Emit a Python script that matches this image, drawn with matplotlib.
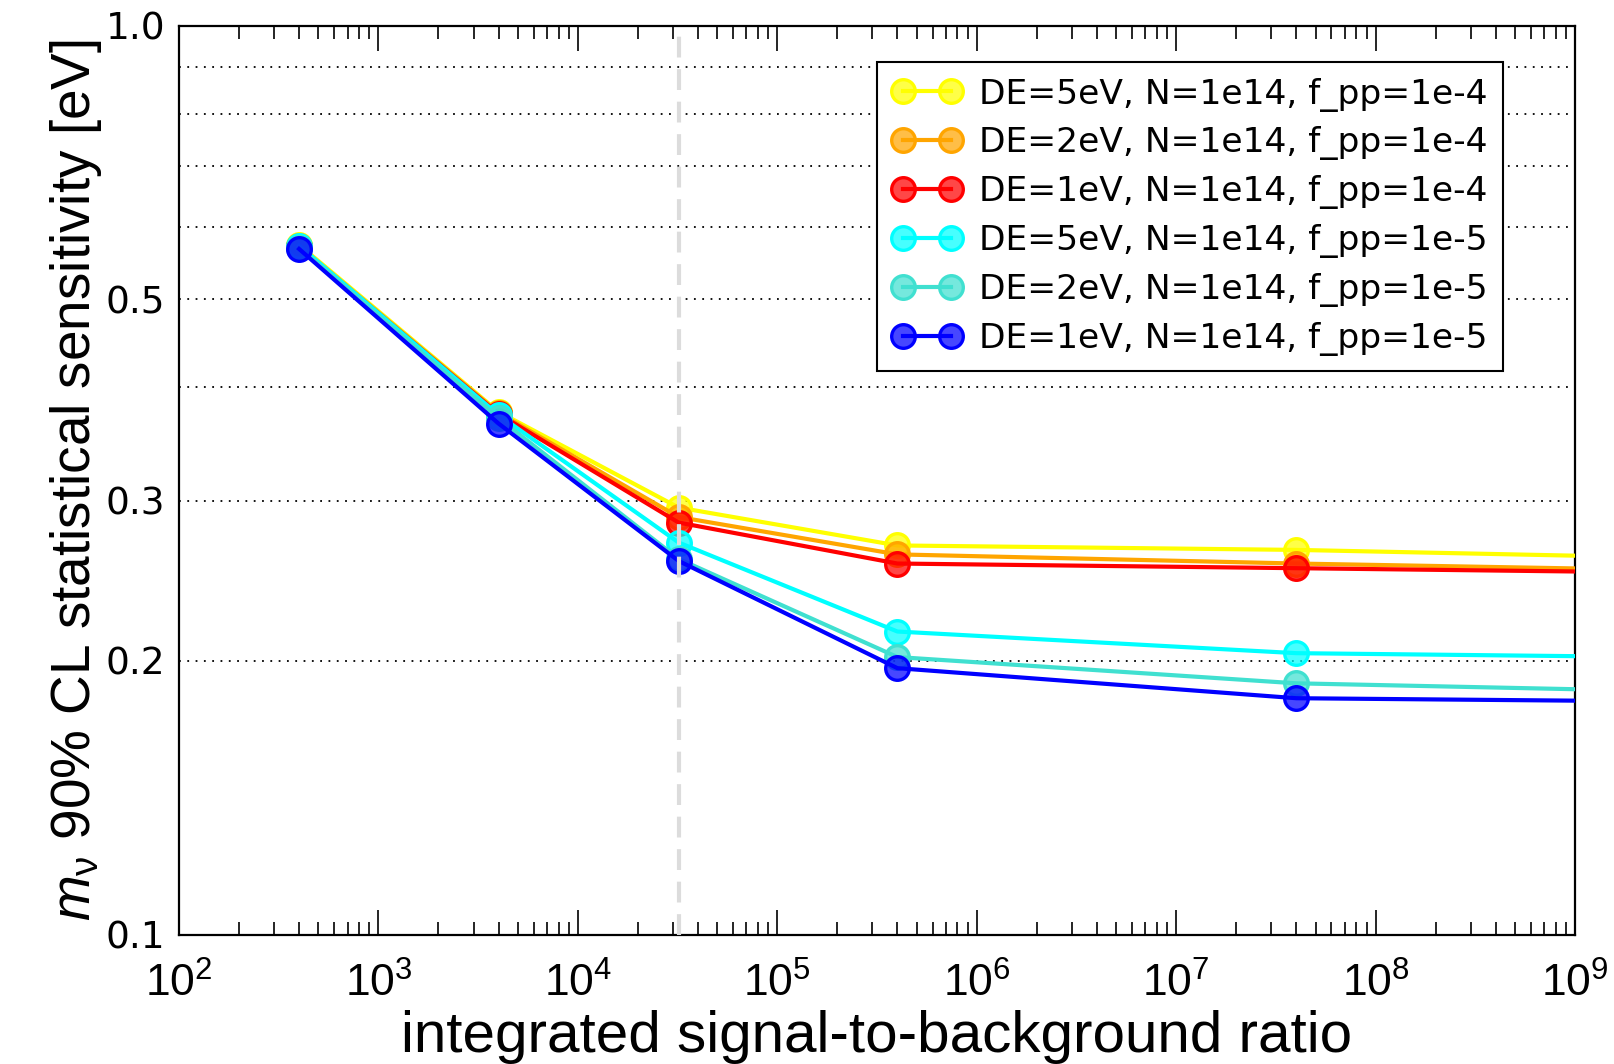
import numpy as np
import matplotlib
matplotlib.use('Agg')
import matplotlib.pyplot as plt

plt.rcParams['font.family'] = ['Liberation Sans', 'DejaVu Sans']
plt.rcParams['mathtext.fontset'] = 'custom'
plt.rcParams['mathtext.rm'] = 'Liberation Sans'
plt.rcParams['mathtext.it'] = 'Liberation Sans:italic'
plt.rcParams['mathtext.default'] = 'regular'

# integrated signal-to-background ratio (last point lies beyond the axis)
sbr = [4e2, 4e3, 3.2e4, 4e5, 4e7, 4e9]

# sensitivity curves [eV]
sens_5eV_1e4 = [0.574, 0.376, 0.295, 0.268, 0.265, 0.2595]
sens_2eV_1e4 = [0.572, 0.375, 0.288, 0.262, 0.256, 0.2515]
sens_1eV_1e4 = [0.571, 0.374, 0.284, 0.256, 0.253, 0.250]
sens_5eV_1e5 = [0.5725, 0.373, 0.270, 0.2155, 0.204, 0.2018]
sens_2eV_1e5 = [0.570, 0.370, 0.259, 0.202, 0.189, 0.185]
sens_1eV_1e5 = [0.568, 0.365, 0.2577, 0.1964, 0.182, 0.1804]

labels = ['DE=5eV, N=1e14, f_pp=1e-4', 'DE=2eV, N=1e14, f_pp=1e-4',
          'DE=1eV, N=1e14, f_pp=1e-4', 'DE=5eV, N=1e14, f_pp=1e-5',
          'DE=2eV, N=1e14, f_pp=1e-5', 'DE=1eV, N=1e14, f_pp=1e-5']
curves = [sens_5eV_1e4, sens_2eV_1e4, sens_1eV_1e4,
          sens_5eV_1e5, sens_2eV_1e5, sens_1eV_1e5]
colors = ['#ffff00', '#ffa500', '#ff0000', '#00ffff', '#40e0d0', '#0000ff']

# marked signal-to-background ratio
sbr_mark = 3.2e4

yticks = [0.1, 0.2, 0.3, 0.4, 0.5, 0.6, 0.7, 0.8, 0.9, 1.0]
yticklabels = ['0.1', '0.2', '0.3', '', '0.5', '', '', '', '', '1.0']

fig = plt.figure(figsize=(16.14, 10.64), dpi=100)
ax = fig.add_axes([0.1109, 0.1216, 0.8650, 0.8543])

for y, c, lab in zip(curves, colors, labels):
    face = matplotlib.colors.to_rgba(c, 0.72)
    ax.plot(sbr, y, '-o', color=c, lw=3, ms=17, mfc=face, mec=c, mew=2.4,
            label=lab, zorder=3)

ax.axvline(sbr_mark, color='#dcdcdc', lw=3, ls=(0, (5, 2.8)), zorder=4)

ax.set_xscale('log')
ax.set_yscale('log')
ax.set_xlim(1e2, 1e9)
ax.set_ylim(0.1, 1.0)

ax.set_yticks(yticks)
ax.set_yticklabels(yticklabels, family='DejaVu Sans')
ax.yaxis.set_minor_locator(matplotlib.ticker.NullLocator())
ax.yaxis.grid(True, which='major', color='k', lw=1.3, ls=(0, (1, 3.6)), zorder=1)

ax.tick_params(axis='x', which='both', direction='in', top=True, labelsize=32, pad=20)
ax.tick_params(axis='x', which='major', length=18, width=1.2)
ax.tick_params(axis='x', which='minor', length=9.5, width=1.2)
ax.tick_params(axis='y', which='both', length=0, labelsize=27, pad=10)

for sp in ax.spines.values():
    sp.set_linewidth(1.6)

ax.set_xlabel('integrated signal-to-background ratio', fontsize=42)
ax.xaxis.set_label_coords(0.5, -0.083)
ax.set_ylabel(r'$\mathit{m}_\nu$ 90% CL statistical sensitivity [eV]', fontsize=39.5, labelpad=1)

leg = ax.legend(loc='upper right', bbox_to_anchor=(0.9484, 0.960), borderaxespad=0,
                prop={'family': 'DejaVu Sans', 'size': 24.8},
                numpoints=2, handlelength=2.0, handletextpad=0.5,
                labelspacing=0.43, borderpad=0.45, fancybox=False, framealpha=1)
leg.get_frame().set_edgecolor('k')
leg.get_frame().set_linewidth(1.5)

plt.savefig('out.png', dpi=100)
